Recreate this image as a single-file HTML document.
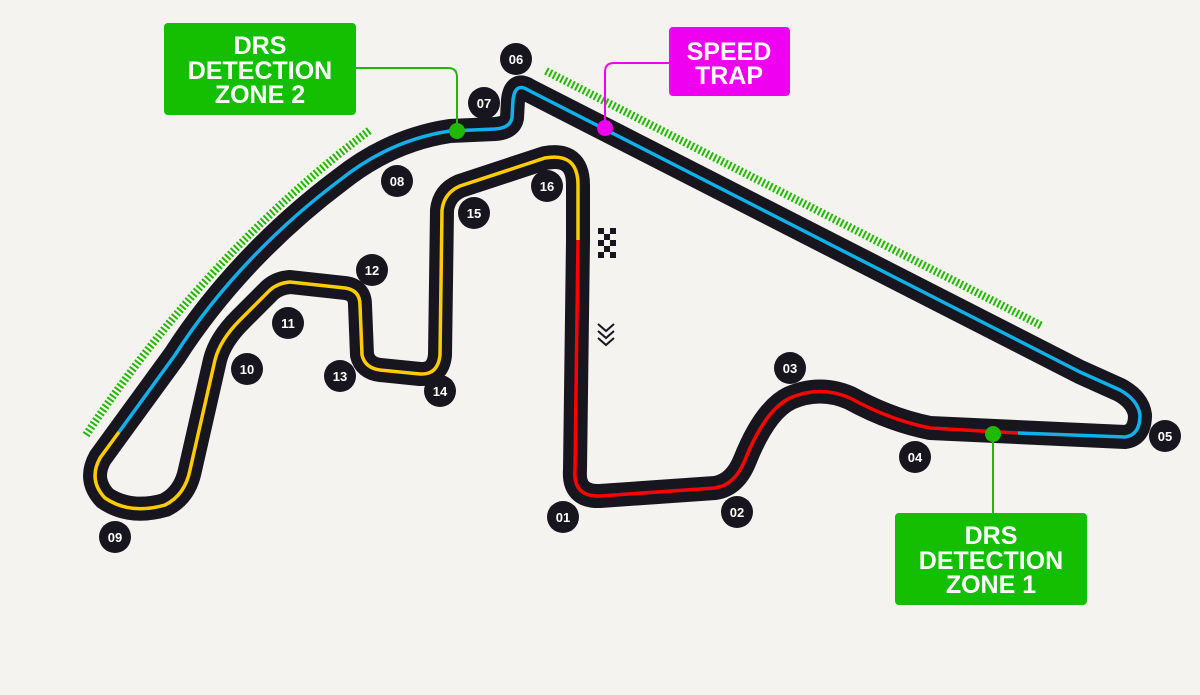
<!DOCTYPE html>
<html><head><meta charset="utf-8"><style>
html,body{margin:0;padding:0;background:#f4f3ef;}
svg{display:block}
text{font-family:"Liberation Sans",sans-serif;font-weight:bold;}
</style></head><body>
<svg width="1200" height="695" viewBox="0 0 1200 695" xmlns="http://www.w3.org/2000/svg">
<rect width="1200" height="695" fill="#f4f3ef"/>
<!-- DRS zones hatch -->
<g stroke="#23b800" stroke-width="8" stroke-dasharray="2 2.2" fill="none">
<path d="M86,435 Q210,250 370,130"/>
<line x1="546" y1="71" x2="1042" y2="326"/>
</g>
<!-- track -->
<path d="M578,240 L575,470 Q573,497 600,496 L715,488 Q735,485 745,460 Q765,410 790,398 Q820,385 850,398 Q890,420 930,428 L1125,437 Q1140,435 1140,415 Q1138,400 1120,390 L1080,372 L528,90 Q515,82 513,100 L512,118 Q510,128 495,129 L450,131 Q390,140 340,180 C280,225 220,285 175,355 L100,458 Q88,480 105,498 Q130,515 165,505 Q185,495 190,470 L215,360 Q220,340 240,320 L270,290 Q278,283 290,282 L345,288 Q360,290 360,305 L362,355 Q365,368 380,370 L420,374 Q438,375 440,355 L442,210 Q444,193 460,186 L545,158 Q578,152 578,185 Z" fill="none" stroke="#17161f" stroke-width="24" stroke-linejoin="round"/>
<path d="M578,240 L575,470 Q573,497 600,496 L715,488 Q735,485 745,460 Q765,410 790,398 Q820,385 850,398 Q890,420 930,428 L1018,433" fill="none" stroke="#ff0000" stroke-width="3.5"/>
<path d="M1018,433 L1125,437 Q1140,435 1140,415 Q1138,400 1120,390 L1080,372 L528,90 Q515,82 513,100 L512,118 Q510,128 495,129 L450,131 Q390,140 340,180 C280,225 220,285 175,355 L119,432" fill="none" stroke="#12b0e8" stroke-width="3.5"/>
<path d="M119,432 L100,458 Q88,480 105,498 Q130,515 165,505 Q185,495 190,470 L215,360 Q220,340 240,320 L270,290 Q278,283 290,282 L345,288 Q360,290 360,305 L362,355 Q365,368 380,370 L420,374 Q438,375 440,355 L442,210 Q444,193 460,186 L545,158 Q578,152 578,185 L578,240" fill="none" stroke="#ffcc00" stroke-width="3.5"/>
<!-- checkered flag -->
<g fill="#17161f">
<rect x="598" y="228" width="6" height="6"/><rect x="610" y="228" width="6" height="6"/>
<rect x="604" y="234" width="6" height="6"/>
<rect x="598" y="240" width="6" height="6"/><rect x="610" y="240" width="6" height="6"/>
<rect x="604" y="246" width="6" height="6"/>
<rect x="598" y="252" width="6" height="6"/><rect x="610" y="252" width="6" height="6"/>
</g>
<g fill="none" stroke="#17161f" stroke-width="2">
<path d="M598,324 L606,331 L614,324"/><path d="M598,331 L606,338 L614,331"/><path d="M598,338 L606,345 L614,338"/>
</g>
<!-- connectors -->
<path d="M356,68 L448,68 Q457,68 457,77 L457,131" fill="none" stroke="#23b800" stroke-width="2"/>
<circle cx="457" cy="131" r="8" fill="#23b800"/>
<path d="M669,63 L614,63 Q605,63 605,72 L605,128" fill="none" stroke="#f000f0" stroke-width="2"/>
<circle cx="605" cy="128" r="8" fill="#f000f0"/>
<path d="M993,434 L993,513" fill="none" stroke="#23b800" stroke-width="2"/>
<circle cx="993" cy="434" r="8" fill="#23b800"/>
<!-- boxes -->
<rect x="164" y="23" width="192" height="92" rx="4" fill="#13bf00"/>
<g fill="#fff" font-size="25" text-anchor="middle">
<text x="260" y="54">DRS</text><text x="260" y="79">DETECTION</text><text x="260" y="103">ZONE 2</text>
</g>
<rect x="669" y="27" width="121" height="69" rx="4" fill="#f000f0"/>
<g fill="#fff" font-size="25" text-anchor="middle">
<text x="729" y="60">SPEED</text><text x="729" y="84">TRAP</text>
</g>
<rect x="895" y="513" width="192" height="92" rx="4" fill="#13bf00"/>
<g fill="#fff" font-size="25" text-anchor="middle">
<text x="991" y="544">DRS</text><text x="991" y="569">DETECTION</text><text x="991" y="593">ZONE 1</text>
</g>
<!-- corner numbers -->
<g font-size="13" fill="#fff" text-anchor="middle">
<g><circle cx="563" cy="517" r="16" fill="#17161f"/><text x="563" y="522">01</text></g>
<g><circle cx="737" cy="512" r="16" fill="#17161f"/><text x="737" y="517">02</text></g>
<g><circle cx="790" cy="368" r="16" fill="#17161f"/><text x="790" y="373">03</text></g>
<g><circle cx="915" cy="457" r="16" fill="#17161f"/><text x="915" y="462">04</text></g>
<g><circle cx="1165" cy="436" r="16" fill="#17161f"/><text x="1165" y="441">05</text></g>
<g><circle cx="516" cy="59" r="16" fill="#17161f"/><text x="516" y="64">06</text></g>
<g><circle cx="484" cy="103" r="16" fill="#17161f"/><text x="484" y="108">07</text></g>
<g><circle cx="397" cy="181" r="16" fill="#17161f"/><text x="397" y="186">08</text></g>
<g><circle cx="115" cy="537" r="16" fill="#17161f"/><text x="115" y="542">09</text></g>
<g><circle cx="247" cy="369" r="16" fill="#17161f"/><text x="247" y="374">10</text></g>
<g><circle cx="288" cy="323" r="16" fill="#17161f"/><text x="288" y="328">11</text></g>
<g><circle cx="372" cy="270" r="16" fill="#17161f"/><text x="372" y="275">12</text></g>
<g><circle cx="340" cy="376" r="16" fill="#17161f"/><text x="340" y="381">13</text></g>
<g><circle cx="440" cy="391" r="16" fill="#17161f"/><text x="440" y="396">14</text></g>
<g><circle cx="474" cy="213" r="16" fill="#17161f"/><text x="474" y="218">15</text></g>
<g><circle cx="547" cy="186" r="16" fill="#17161f"/><text x="547" y="191">16</text></g>
</g>
</svg>
</body></html>
